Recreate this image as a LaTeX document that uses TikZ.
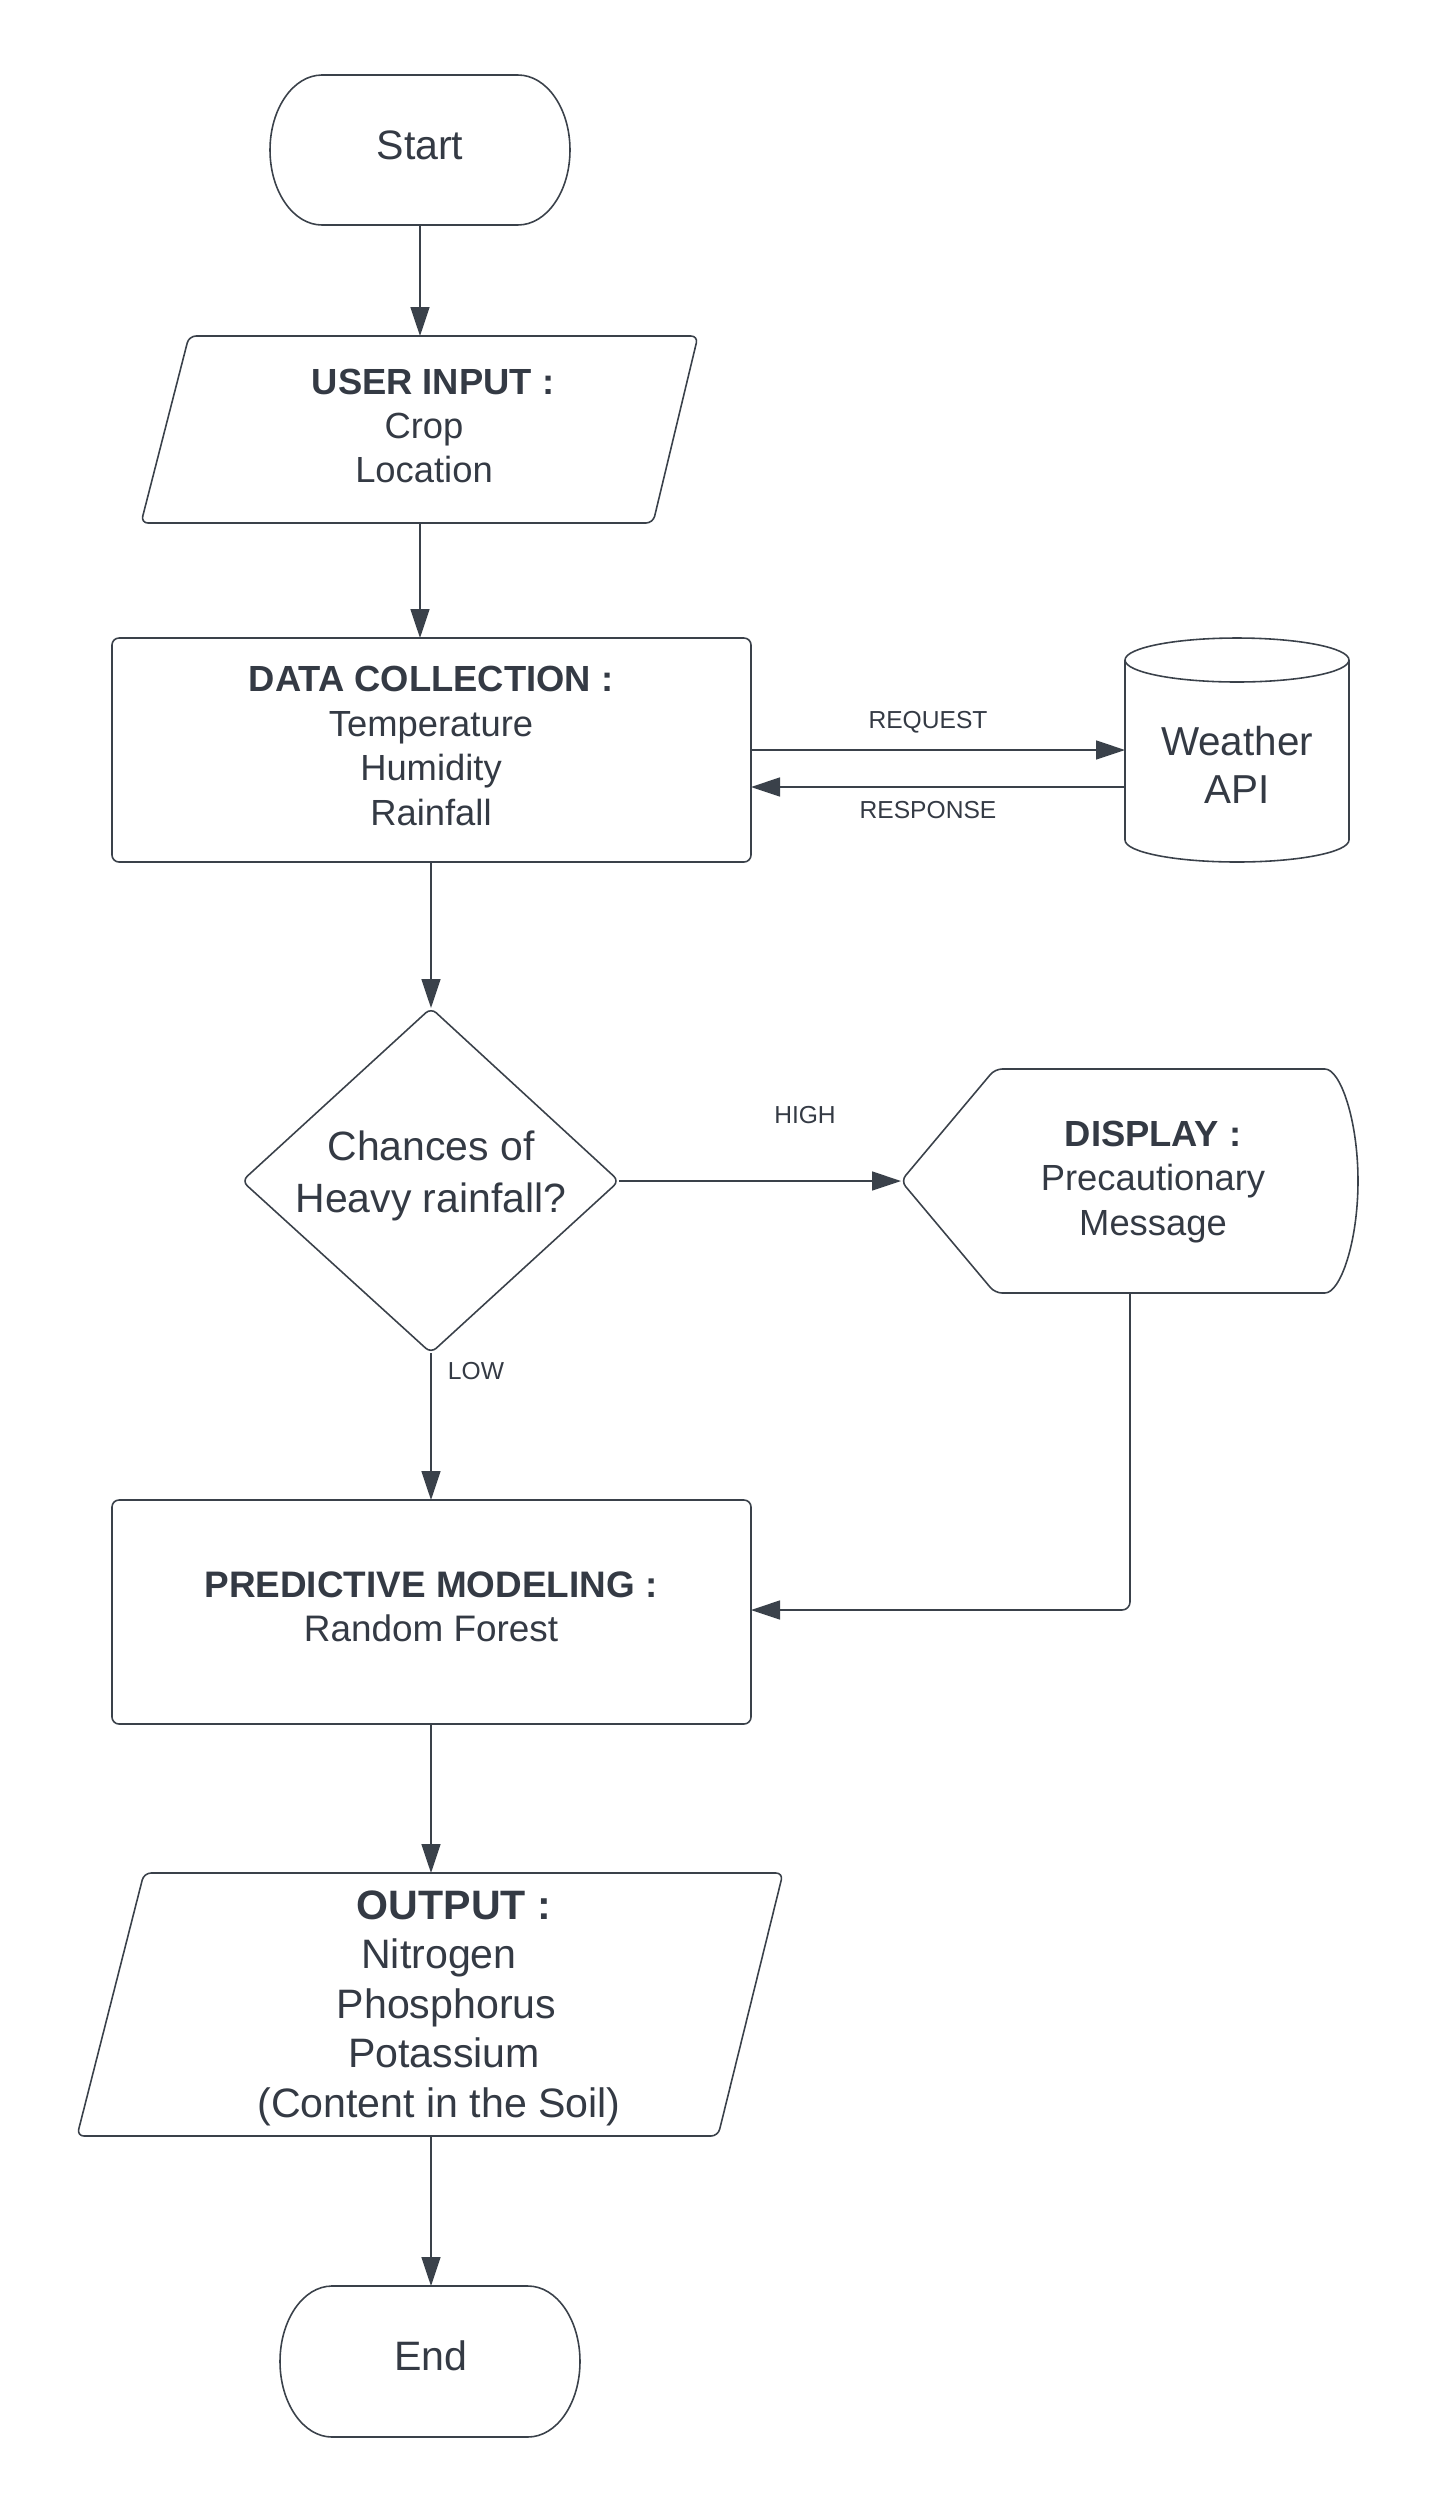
\documentclass[tikz,border=0pt]{standalone}
\usepackage{fontspec}
\setmainfont{Liberation Sans}
\usetikzlibrary{arrows.meta}
\definecolor{lc}{RGB}{58,65,74}
\definecolor{tc}{RGB}{52,58,68}
\begin{document}
\begin{tikzpicture}[x=0.02cm,y=-0.02cm,
  shp/.style={draw=lc, line width=0.9pt, rounded corners=0.14cm},
  conn/.style={draw=lc, line width=0.9pt, -{Triangle[length=0.58cm,width=0.38cm]}},
  txt/.style={text=tc, align=center, font=\fontsize{20.7}{25.3}\selectfont, inner sep=0pt},
  big/.style={text=tc, align=center, font=\fontsize{23.4}{27.8}\selectfont, inner sep=0pt},
  lbl/.style={text=tc, font=\fontsize{14}{16}\selectfont, inner sep=0pt}]
\useasboundingbox (0,0) rectangle (1434,2513);

% ---------- shapes ----------
% Start terminal
\draw[shp, rounded corners=0] (322,75) -- (518,75)
  arc[start angle=90,end angle=-90,x radius=1.04cm,y radius=1.5cm] -- (322,225)
  arc[start angle=270,end angle=90,x radius=1.04cm,y radius=1.5cm] -- cycle;
% User input
\draw[shp] (189,336) -- (698,336) -- (653,523) -- (141,523) -- cycle;
% Data collection
\draw[shp] (112,638) rectangle (751,862);
% Weather API cylinder
\draw[shp, rounded corners=0] (1125,660) -- (1125,840)
  arc[start angle=180,end angle=360,x radius=2.24cm,y radius=0.44cm] -- (1349,660);
\draw[shp] (1237,660) ellipse [x radius=2.24cm, y radius=0.44cm];
% Decision diamond
\draw[shp] (431,1008) -- (619,1181) -- (431,1353) -- (242,1181) -- cycle;
% Display
\draw[shp] (1318,1069) arc[start angle=90,end angle=-90,x radius=0.8cm,y radius=2.24cm]
  -- (995,1293) -- (901,1181) -- (995,1069) -- cycle;
% Predictive modeling
\draw[shp] (112,1500) rectangle (751,1724);
% Output
\draw[shp] (144,1873) -- (783,1873) -- (718,2136) -- (77,2136) -- cycle;
% End terminal
\draw[shp, rounded corners=0] (332,2286) -- (528,2286)
  arc[start angle=90,end angle=-90,x radius=1.04cm,y radius=1.51cm] -- (332,2437)
  arc[start angle=270,end angle=90,x radius=1.04cm,y radius=1.51cm] -- cycle;

% ---------- texts ----------
\node[big] (start) at (420,145) {Start};
\node[txt] (ui) at (424,426) {\hspace*{0.36cm}\textbf{USER INPUT :}\\Crop\\Location};
\node[txt] (dc) at (431,746) {\textbf{DATA COLLECTION :}\\Temperature\\Humidity\\Rainfall};
\node[big, font=\fontsize{23}{27.2}\selectfont] (api) at (1237,765) {Weather\\API};
\node[big, font=\fontsize{23.3}{29.5}\selectfont] (dia) at (431,1176) {Chances of\\Heavy rainfall?};
\node[txt] (disp) at (1153,1182) {\textbf{DISPLAY :}\\Precautionary\\Message};
\node[txt, font=\fontsize{21}{25}\selectfont] (pm) at (431,1607) {\textbf{PREDICTIVE MODELING :}\\Random Forest};
\node[big, font=\fontsize{23.4}{28.2}\selectfont] (out) at (439,2008) {\hspace*{0.6cm}\textbf{OUTPUT :}\\Nitrogen\\\hspace*{0.3cm}Phosphorus\\\hspace*{0.2cm}Potassium\\(Content in the Soil)};
\node[big] (stop) at (431,2356) {End};

% ---------- connector anchors ----------
\coordinate (start-s) at (420,225);
\coordinate (ui-n) at (420,336);
\coordinate (ui-s) at (420,523);
\coordinate (dc-n) at (420,638);
\coordinate (dc-e1) at (751,750);
\coordinate (dc-e2) at (751,787);
\coordinate (api-w1) at (1125,750);
\coordinate (api-w2) at (1125,787);
\coordinate (dc-s) at (431,862);
\coordinate (dia-n) at (431,1008);
\coordinate (dia-e) at (619,1181);
\coordinate (dia-s) at (431,1353);
\coordinate (disp-w) at (901,1181);
\coordinate (disp-s) at (1130,1293);
\coordinate (pm-n) at (431,1500);
\coordinate (pm-e) at (751,1610);
\coordinate (pm-s) at (431,1724);
\coordinate (out-n) at (431,1873);
\coordinate (out-s) at (431,2136);
\coordinate (stop-n) at (431,2286);

% ---------- connectors ----------
\draw[conn] (start-s) -- (ui-n);
\draw[conn] (ui-s) -- (dc-n);
\draw[conn] (dc-e1) -- (api-w1);
\draw[conn] (api-w2) -- (dc-e2);
\draw[conn] (dc-s) -- (dia-n);
\draw[conn] (dia-e) -- (disp-w);
\draw[conn] (dia-s) -- (pm-n);
\draw[conn, rounded corners=0.16cm] (disp-s) |- (pm-e);
\draw[conn] (pm-s) -- (out-n);
\draw[conn] (out-s) -- (stop-n);

% ---------- labels ----------
\node[lbl] (lreq) at (928,722) {REQUEST};
\node[lbl] (lres) at (928,810) {RESPONSE};
\node[lbl] (lhigh) at (805,1115) {HIGH};
\node[lbl] (llow) at (476,1371) {LOW};
\end{tikzpicture}
\end{document}
